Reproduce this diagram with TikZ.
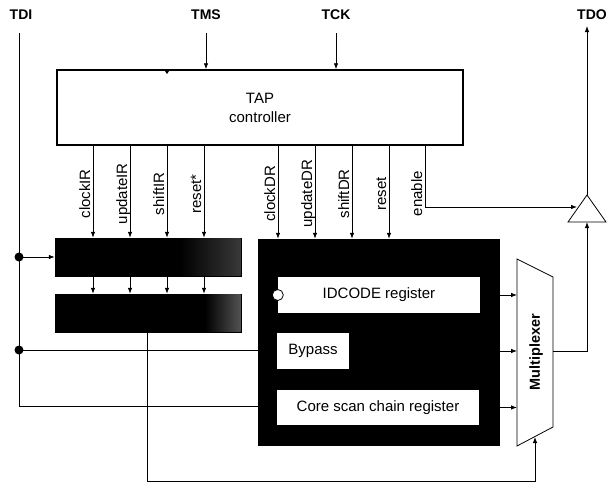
\documentclass[tikz,border=0pt]{standalone}
\usepackage{fontspec}
\setmainfont{Liberation Sans}
\usetikzlibrary{arrows.meta,calc}
\begin{document}
\begin{tikzpicture}[x=1pt,y=-1pt,
  wire/.style={line width=0.8pt},
  arr/.style={wire,-{Latex[length=6pt,width=4.5pt]}},
  pin/.style={font=\fontsize{14}{16}\selectfont\bfseries},
  sig/.style={font=\fontsize{15}{18}\selectfont,rotate=90,anchor=base,inner sep=0pt},
  blk/.style={fill=black,draw=black,inner sep=0pt},
  wbox/.style={fill=white,inner sep=0pt,font=\fontsize{15}{18}\selectfont},
  dot/.style={circle,fill=black,inner sep=0pt,minimum size=9pt}]
\useasboundingbox (0,0) rectangle (608,485);
% pins
\node[pin] (tdi) at (21,15) {TDI};
\node[pin] (tms) at (206,15) {TMS};
\node[pin] (tck) at (336,15) {TCK};
\node[pin] (tdo) at (592,15) {TDO};
% TAP controller
\node[draw,line width=1.5pt,minimum width=406pt,minimum height=75pt,inner sep=0pt,
      align=center,font=\fontsize{15}{19}\selectfont] (tap) at (260,107.5) {TAP\\controller};
\fill (164,69.5) -- (170,69.5) -- (167,74) -- cycle;
% IR blocks
\node[blk,minimum width=186pt,minimum height=38pt] (ir1) at (148,257) {};
\node[blk,minimum width=186pt,minimum height=38pt] (ir2) at (148,313) {};
\shade[left color=black,right color=black!78] (180,238.5) rectangle (240.5,275.5);
\shade[left color=black,right color=black!68] (205,294.5) rectangle (240.5,331.5);
% DR block
\node[blk,minimum width=241pt,minimum height=206pt] (dr) at (378.5,342) {};
\node[wbox,minimum width=202pt,minimum height=36pt] (idc) at (379,295) {IDCODE register};
\node[wbox,minimum width=72pt,minimum height=36pt] (byp) at (313,351) {Bypass};
\node[wbox,minimum width=202pt,minimum height=35pt] (core) at (378,407.5) {Core scan chain register};
\node[circle,draw,fill=white,line width=0.8pt,minimum size=11pt,inner sep=0pt] (ring) at (idc.west) {};
% Multiplexer
\coordinate (m1) at (517,259);
\coordinate (m2) at (553,277);
\coordinate (m3) at (553,427);
\coordinate (m4) at (517,446);
\draw[wire] (m1) -- (m2) -- (m3) -- (m4) -- cycle;
\node[font=\fontsize{14.5}{17}\selectfont\bfseries,rotate=90] (mux) at (536,352) {Multiplexer};
% output buffer triangle
\coordinate (tapex) at (587,195);
\coordinate (tbl) at (568,222);
\coordinate (tbr) at (606,222);
\draw[wire] (tapex) -- (tbl) -- (tbr) -- cycle;
% signal x positions
\foreach \n/\x in {a/93,b/130,c/167,d/204,e/278,f/315,g/352,h/389,i/425}
  \coordinate (s\n) at (\x,0);
% IR control signals
\foreach \n/\t in {a/clockIR,b/updateIR,c/shiftIR,d/reset*}{
  \draw[arr] (tap.south -| s\n) -- (ir1.north -| s\n);
  \draw[arr] (ir1.south -| s\n) -- (ir2.north -| s\n);
  \node[sig] at ($(tap.south -| s\n)+(-3,48)$) {\t};
}
% DR control signals
\foreach \n/\t in {e/clockDR,f/updateDR,g/shiftDR,h/reset}{
  \draw[arr] (tap.south -| s\n) -- (dr.north -| s\n);
  \node[sig] at ($(tap.south -| s\n)+(-3,48)$) {\t};
}
\node[sig] at ($(tap.south -| si)+(-3,48)$) {enable};
\coordinate (enin) at (577,207);
\draw[arr] (tap.south -| si) |- (enin);
% TMS, TCK
\coordinate (tmsin) at (206,33);
\coordinate (tckin) at (336,33);
\draw[arr] (tmsin) -- (tap.north -| tmsin);
\draw[arr] (tckin) -- (tap.north -| tckin);
% TDI distribution
\coordinate (tdiin) at (19,33);
\coordinate (cs) at (19,406);
\node[dot] (d1) at (19,257) {};
\node[dot] (d2) at (19,350) {};
\draw[wire] (tdiin) -- (cs) -- (dr.west |- cs);
\draw[arr] (d1.center) -- (ir1.west);
\draw[wire] (d2.center) -- (dr.west |- d2);
% IR to mux select
\coordinate (b1) at (147,481);
\coordinate (mb) at (535,437);
\draw[arr] (ir2.south -| b1) -- (b1) -| (mb);
% DR outputs to mux
\draw[arr] (dr.east |- idc.east) -- (m1 |- idc.east);
\draw[arr] (dr.east |- byp.east) -- (m1 |- byp.east);
\draw[arr] (dr.east |- core.east) -- (m1 |- core.east);
% mux to buffer to TDO
\coordinate (mout) at (553,351);
\draw[arr] (mout) -| (tbl -| tapex);
\coordinate (tdoin) at (587,26);
\draw[arr] (tapex) -- (tdoin);
\end{tikzpicture}
\end{document}
